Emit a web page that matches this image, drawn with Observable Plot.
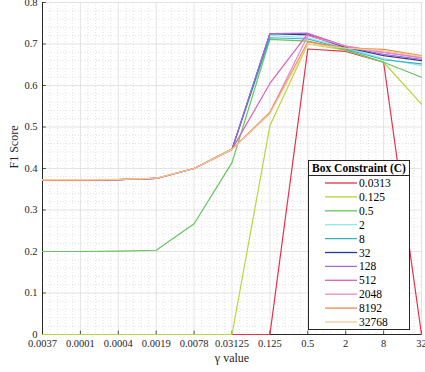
<!DOCTYPE html>
<html>
<head>
<meta charset="utf-8">
<script src="https://cdn.jsdelivr.net/npm/d3@7"></script>
<script src="https://cdn.jsdelivr.net/npm/@observablehq/plot@0.6"></script>
<style>
  html, body { margin: 0; padding: 0; background: #fff; }
  #wrap { position: relative; width: 425px; height: 372px; overflow: hidden; }
  #wrap svg, #wrap svg text { font-family: "Liberation Serif", "Times New Roman", serif !important; }
  #legend { position: absolute; left: 308px; top: 160px; }
</style>
</head>
<body>
<div id="wrap"></div>
<script>
const gammaLabels = ["0.0037","0.0001","0.0004","0.0019","0.0078","0.03125","0.125","0.5","2","8","32"];
const cLabels = ["0.0313","0.125","0.5","2","8","32","128","512","2048","8192","32768"];
const cColors = ["#e5304c","#b9d53a","#62c65a","#92e4ec","#35b3bf","#2b3a8f","#a070d6","#d862b8","#e88ac6","#f08a48","#f3cc96"];

const s0_0313 = [0,0,0,0,0,0,0,0.688,0.682,0.656,0];
const s0_125  = [0,0,0,0,0,0,0.503,0.700,0.685,0.656,0.555];
const s0_5    = [0.200,0.200,0.201,0.203,0.267,0.414,0.711,0.707,0.686,0.656,0.620];
const s2      = [0.372,0.372,0.373,0.376,0.400,0.446,0.721,0.715,0.690,0.665,0.648];
const s8      = [0.372,0.372,0.373,0.376,0.400,0.446,0.715,0.712,0.688,0.662,0.652];
const s32     = [0.372,0.372,0.373,0.376,0.400,0.446,0.725,0.722,0.692,0.672,0.660];
const s128    = [0.372,0.372,0.373,0.376,0.400,0.446,0.725,0.726,0.694,0.675,0.663];
const s512    = [0.372,0.372,0.373,0.376,0.400,0.446,0.605,0.725,0.695,0.680,0.667];
const s2048   = [0.372,0.372,0.373,0.376,0.400,0.446,0.535,0.720,0.695,0.680,0.667];
const s8192   = [0.372,0.372,0.373,0.376,0.400,0.446,0.535,0.705,0.690,0.687,0.672];
const s32768  = [0.373,0.373,0.374,0.377,0.400,0.446,0.532,0.700,0.690,0.684,0.670];

const yTicks = [0,0.1,0.2,0.3,0.4,0.5,0.6,0.7,0.8];

const seriesList = [s0_0313,s0_125,s0_5,s2,s8,s32,s128,s512,s2048,s8192,s32768];
const table = [];
seriesList.forEach((vals, i) => {
  vals.forEach((v, j) => table.push({x: j, y: v, c: cLabels[i]}));
});

const xIdx = gammaLabels.map((_, i) => i);
const xMinor = [];
for (let i = 0; i < gammaLabels.length - 1; i++) for (let k = 1; k < 5; k++) xMinor.push(i + k / 5);
const yMinor = [];
for (let i = 0; i < yTicks.length - 1; i++) for (let k = 1; k < 5; k++) yMinor.push(yTicks[i] + k * 0.02);

const chart = Plot.plot({
  width: 425,
  height: 372,
  marginLeft: 42,
  marginRight: 4,
  marginTop: 2,
  marginBottom: 38,
  style: {fontFamily: "'Liberation Serif', serif", fontSize: "10px", background: "transparent", color: "#262626", overflow: "visible"},
  x: {type: "linear", domain: [0, 10]},
  y: {domain: [0, 0.8]},
  color: {domain: cLabels, range: cColors},
  marks: [
    Plot.ruleX(xMinor, {stroke: "#d0d0d0", strokeWidth: 0.6, strokeDasharray: "1,2"}),
    Plot.ruleY(yMinor, {stroke: "#d0d0d0", strokeWidth: 0.6, strokeDasharray: "1,2"}),
    Plot.ruleX(xIdx, {stroke: "#dcdcdc", strokeWidth: 0.8}),
    Plot.ruleY(yTicks, {stroke: "#dcdcdc", strokeWidth: 0.8}),
    Plot.axisX({ticks: xIdx, tickFormat: i => gammaLabels[i], tickSize: 0, tickPadding: 5, label: null, fill: "#262626", fontSize: 10.5}),
    Plot.axisY({ticks: yTicks, tickFormat: d => d === 0 ? "0" : d3.format(".1f")(d), tickSize: 0, tickPadding: 5, label: null, fill: "#262626", fontSize: 10.5}),
    Plot.ruleY(yTicks, {x1: 0, x2: 0.1, stroke: "#262626", strokeWidth: 0.8}),
    Plot.ruleX(xIdx, {y1: 0, y2: 0.008, stroke: "#262626", strokeWidth: 0.8}),
    Plot.ruleX([0], {stroke: "#262626", strokeWidth: 1}),
    Plot.ruleY([0], {stroke: "#262626", strokeWidth: 1}),
    Plot.line(table, {x: "x", y: "y", z: "c", stroke: "c", strokeWidth: 1.2}),
    Plot.text(["γ value"], {frameAnchor: "bottom", dy: 27, fontSize: 12, fill: "#262626"}),
    Plot.text(["F1 Score"], {frameAnchor: "left", dx: -28, rotate: -90, fontSize: 12, fill: "#262626"})
  ]
});

const wrap = document.getElementById("wrap");
wrap.appendChild(chart);

// Legend (inside plot area, like MATLAB)
const lw = 102, lh = 170;
const leg = d3.create("svg").attr("id", "legend").attr("width", lw).attr("height", lh)
  .style("font-family", "'Liberation Serif', serif");
leg.append("rect").attr("x", 0.5).attr("y", 0.5).attr("width", lw - 1).attr("height", lh - 1)
  .attr("fill", "#fff").attr("stroke", "#262626").attr("stroke-width", 1);
leg.append("text").attr("x", lw / 2).attr("y", 8).attr("dy", "0.35em").attr("text-anchor", "middle")
  .attr("font-weight", "bold").attr("font-size", 11.5).attr("fill", "#000").text("Box Constraint (C)");
leg.append("line").attr("x1", 0).attr("x2", lw).attr("y1", 15.5).attr("y2", 15.5)
  .attr("stroke", "#262626").attr("stroke-width", 1);
cLabels.forEach((lab, i) => {
  const y = 23 + i * 13.9;
  leg.append("line").attr("x1", 17).attr("x2", 49).attr("y1", y).attr("y2", y)
    .attr("stroke", cColors[i]).attr("stroke-width", 1.3);
  leg.append("text").attr("x", 51).attr("y", y).attr("dy", "0.35em").attr("font-size", 11.5)
    .attr("fill", "#000").text(lab);
});
wrap.appendChild(leg.node());
</script>
</body>
</html>
